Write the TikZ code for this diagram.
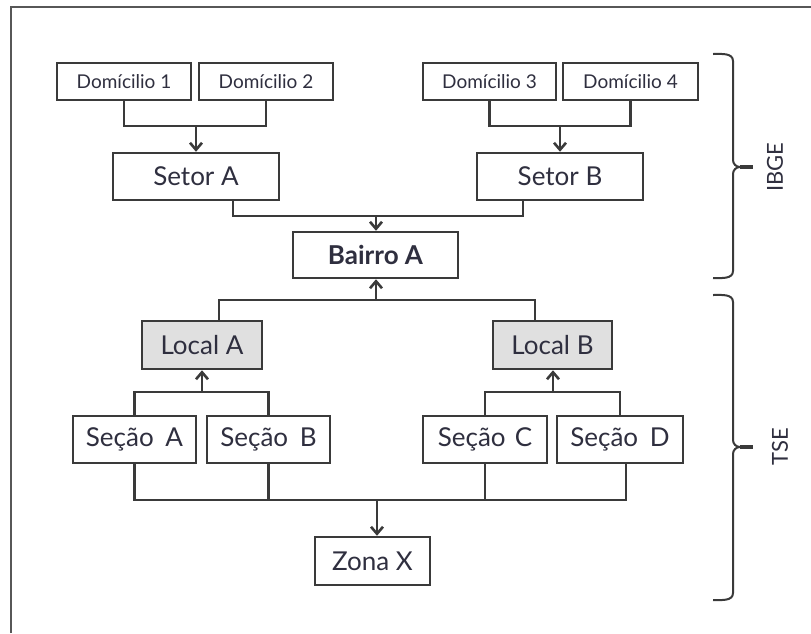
\documentclass[tikz,border=0pt]{standalone}
\usepackage{fontspec}
\setmainfont{Lato}
\usetikzlibrary{arrows.meta}
\definecolor{txt}{HTML}{2F2F3F}
\definecolor{ln}{HTML}{3A3A3A}
\definecolor{grayfill}{HTML}{E0E0E0}
\begin{document}
\begin{tikzpicture}[x=1pt,y=-1pt,
  box/.style={draw=ln,line width=2.5pt,inner sep=0pt,text=txt,align=center},
  small/.style={box,minimum height=37pt,font=\fontsize{19}{22}\selectfont},
  big/.style={box,minimum height=47pt,font=\fontsize{26}{30}\selectfont},
  conn/.style={draw=ln,line width=2.3pt},
  arr/.style={conn,-{Straight Barb[length=7pt,width=12pt,line width=2.6pt]}},
  lbl/.style={text=txt,font=\fontsize{22}{24}\selectfont,rotate=90,inner sep=0pt}]
\useasboundingbox (0,0) rectangle (811,633);
\fill[white] (0,0) rectangle (811,633);
% frame
\coordinate (fr1) at (11,633);
\coordinate (fr2) at (11,7);
\coordinate (fr3) at (811,7);
\draw[ln!85,line width=2.5pt] (fr1) -- (fr2) -- (fr3);
% IBGE level
\node[small,minimum width=134pt] (dom1) at (124,81.5) {Domícilio 1};
\node[small,minimum width=134pt] (dom2) at (266,81.5) {Domícilio 2};
\node[small,minimum width=133pt] (dom3) at (489.5,81.5) {Domícilio 3};
\node[small,minimum width=135pt] (dom4) at (630.5,81.5) {Domícilio 4};
\node[big,minimum width=166pt] (setA) at (196,176.5) {Setor A};
\node[big,minimum width=166pt] (setB) at (560,176.5) {Setor B};
\node[big,minimum width=165pt,minimum height=46pt,font=\fontsize{26}{30}\selectfont\bfseries] (bairro) at (375.5,255) {Bairro A};
% TSE level
\node[big,fill=grayfill,minimum width=120pt,minimum height=48pt] (locA) at (202,345) {Local A};
\node[big,fill=grayfill,minimum width=119pt,minimum height=48pt] (locB) at (552.5,345) {Local B};
\node[big,minimum width=123pt] (secA) at (134.5,439.5) {Seção\hspace{0.45em}A};
\node[big,minimum width=123pt] (secB) at (268.5,439.5) {Seção\hspace{0.45em}B};
\node[big,minimum width=124pt] (secC) at (485,439.5) {Seção\hspace{0.35em}C};
\node[big,minimum width=126pt] (secD) at (620,439.5) {Seção\hspace{0.45em}D};
\node[big,minimum width=115pt,minimum height=48pt] (zona) at (372.5,561) {Zona X};
% junctions
\coordinate (j1) at (196,126);
\coordinate (j2) at (376,216);
\coordinate (j3) at (376,300);
\coordinate (j4) at (202,392);
\coordinate (j5) at (553,392);
\coordinate (j6) at (377,500);
\coordinate (j7) at (560,126);
% connectors
\draw[conn] (dom1.south) |- (j1) -| (dom2.south);
\draw[arr] (j1) -- (setA.north);
\draw[conn] (dom3.south) |- (j7) -| (dom4.south);
\draw[arr] (j7) -- (setB.north);
\draw[conn] ([xshift=37pt]setA.south) |- (j2) -| ([xshift=-37pt]setB.south);
\draw[arr] (j2) -- (bairro.north -| j2);
\draw[conn] ([xshift=17pt]locA.north) |- (j3) -| ([xshift=-17.5pt]locB.north);
\draw[arr] (j3) -- (bairro.south -| j3);
\draw[conn] (secA.north) |- (j4) -| (secB.north);
\draw[arr] (j4) -- (locA.south);
\draw[conn] (secC.north) |- (j5) -| (secD.north);
\draw[arr] (j5) -- (locB.south -| j5);
\coordinate (j8) at ([xshift=6pt]secD.south |- j6);
\draw[conn] (secA.south) |- (j8) -- ([xshift=6pt]secD.south);
\draw[conn] (secB.south) -- (secB.south |- j6);
\draw[conn] (secC.south) -- (secC.south |- j6);
\draw[arr] (j6) -- (zona.north -| j6);
% braces
\coordinate (b1t) at (713,54);
\coordinate (b1m) at (753,167);
\coordinate (b1b) at (713,278);
\draw[ln,line width=2pt] (b1t) to[out=0,in=90] (733,61) -- (733,160) to[out=-90,in=180] (740,167) to[out=180,in=90] (733,174) -- (733,271) to[out=-90,in=0] (b1b);
\draw[ln,line width=3.2pt] (740,167) -- (b1m);
\node[lbl] (ibge) at (775,167) {IBGE};
\coordinate (b2t) at (713,295);
\coordinate (b2m) at (753,447);
\coordinate (b2b) at (713,600);
\draw[ln,line width=2pt] (b2t) to[out=0,in=90] (733,302) -- (733,440) to[out=-90,in=180] (740,447) to[out=180,in=90] (733,454) -- (733,593) to[out=-90,in=0] (b2b);
\draw[ln,line width=3.2pt] (740,447) -- (b2m);
\node[lbl] (tse) at (780,447) {TSE};
\end{tikzpicture}
\end{document}
